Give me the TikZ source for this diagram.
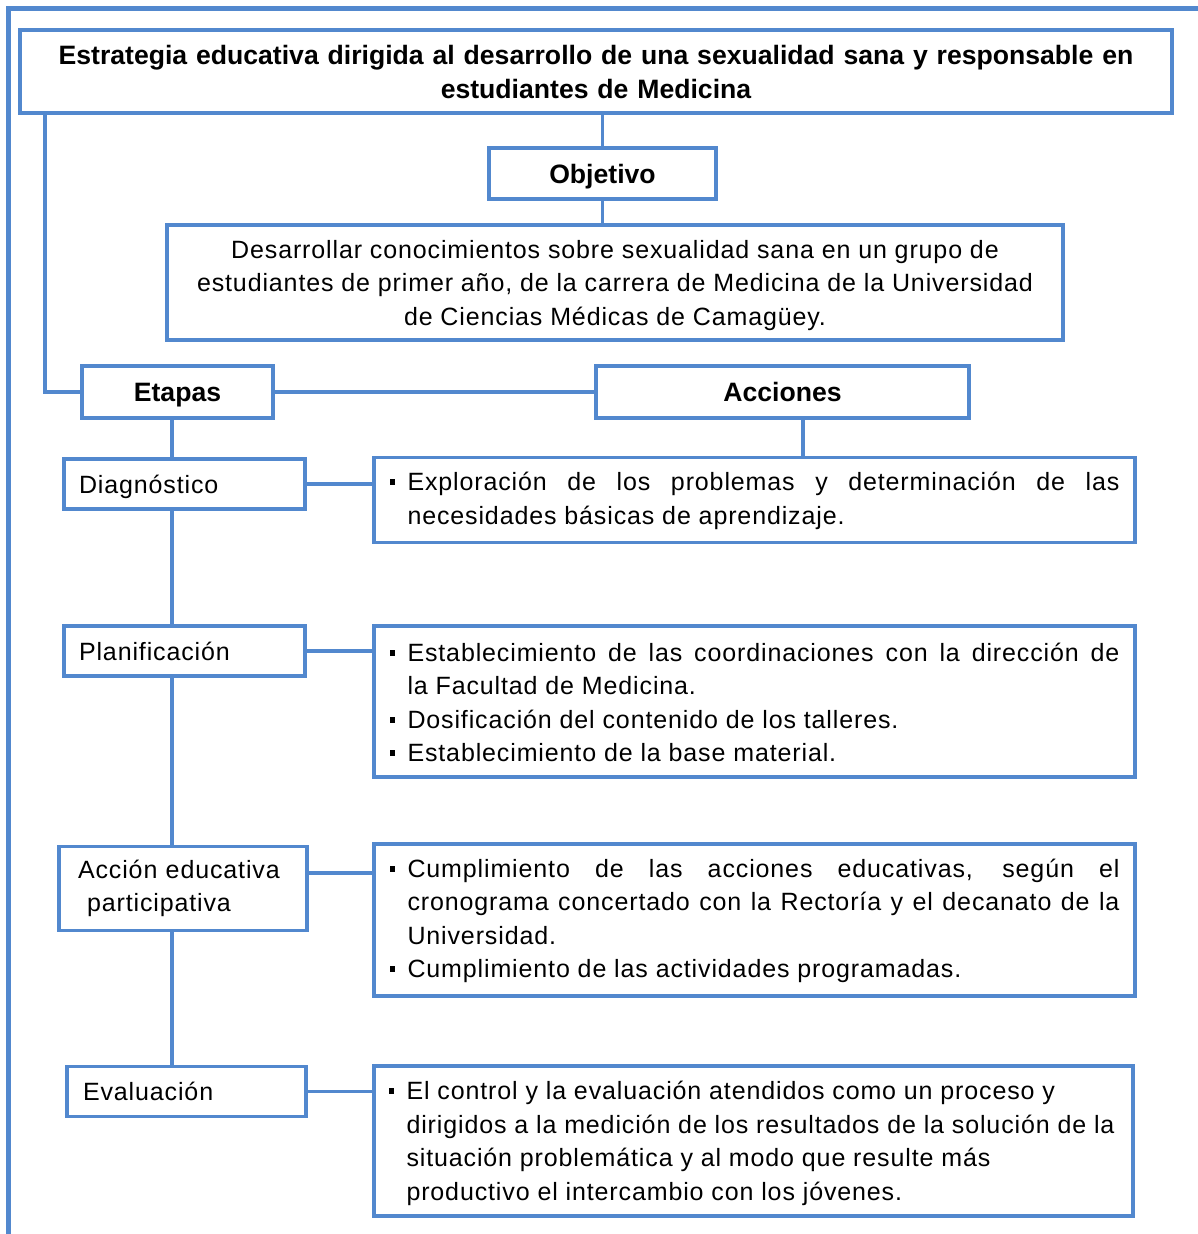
\documentclass[tikz,border=0pt]{standalone}
\usepackage{fontspec}
\setmainfont{Liberation Sans}[LetterSpace=3.5,BoldFeatures={LetterSpace=0}]
\definecolor{frameblue}{RGB}{82,136,206}
\tolerance=9999
\hyphenpenalty=10000
\newcommand\bul{\par\noindent\hangindent=18pt\hangafter=1\makebox[18pt][l]{\raisebox{5.5pt}{\rule{5.5pt}{6pt}}}}
\newcommand\txtfont{\fontsize{25pt}{33.5pt}\selectfont}
\newcommand\boldfont{\fontsize{26.6pt}{34pt}\selectfont\bfseries}
\newcommand\finish{\par\kern13pt\hrule height 0pt width 0pt}
\tikzset{
  box/.style={draw=frameblue, line width=3.5pt, rectangle, inner sep=0pt, fill=white},
  link/.style={draw=frameblue, line width=3.5pt},
  frame/.style={draw=frameblue, line width=5pt},
  txt/.style={font=\txtfont},
  bold/.style={font=\boldfont},
  acts/.style={box, txt, text width=730pt, align=justify},
  stage/.style={box, txt, align=left}
}
\begin{document}
\begin{tikzpicture}[x=1pt,y=-1pt]
\useasboundingbox[fill=white] (0,0) rectangle (1198,1234);
\draw[frame] (8,1234) -- (8,8) -- (1198,8);
% top boxes
\node[box, bold, minimum width=1152pt, minimum height=83pt, text width=1130pt, align=center] (title) at (596,71.5)
  {Estrategia educativa dirigida al desarrollo de una sexualidad sana y responsable en\\estudiantes de Medicina};
\node[box, bold, minimum width=227pt, minimum height=51pt, text depth=0pt] (obj) at (602.5,173.5) {Objetivo};
\node[box, txt, minimum width=896pt, minimum height=115pt] (goal) at (615,282.5)
  {\parbox{880pt}{\centering\vspace*{6pt}Desarrollar conocimientos sobre sexualidad sana en un grupo de\\estudiantes de primer año, de la carrera de Medicina de la Universidad\\de Ciencias Médicas de Camagüey.}};
\node[box, bold, minimum width=191pt, minimum height=52pt, text depth=0pt] (etapas) at (177.5,392) {Etapas};
\node[box, bold, minimum width=373pt, minimum height=52pt] (acciones) at (782.5,392) {Acciones};
% stages
\node[stage, minimum width=241pt, minimum height=50pt, text width=211pt, text depth=0pt] (diag) at (184.5,484) {Diagnóstico};
\node[stage, minimum width=241pt, minimum height=50pt, text width=211pt] (plan) at (184.5,651) {Planificación};
\node[stage, minimum width=248pt, minimum height=84pt, text width=210pt] (accion) at (183,888.5) {Acción educativa\\\hspace*{9pt}participativa};
\node[stage, minimum width=239pt, minimum height=50pt, text width=207pt] (eval) at (186.5,1091.5) {Evaluación};
% actions
\node[acts, minimum width=761pt, minimum height=82pt] (a1) at (754.5,500)
  {\bul Exploración de los problemas y determinación de las\linebreak necesidades básicas de aprendizaje.\finish};
\node[acts, minimum width=761pt, minimum height=151pt] (a2) at (754.5,701.5)
  {\bul Establecimiento de las coordinaciones con la dirección de\linebreak la Facultad de Medicina.
   \bul Dosificación del contenido de los talleres.
   \bul Establecimiento de la base material.\finish};
\node[acts, minimum width=761pt, minimum height=150pt] (a3) at (754.5,920)
  {\bul Cumplimiento de las acciones educativas, según el\linebreak cronograma concertado con la Rectoría y el decanato de la\linebreak Universidad.
   \bul Cumplimiento de las actividades programadas.\finish};
\node[box, txt, minimum width=759pt, minimum height=150pt] (a4) at (753.5,1141)
  {\makebox[730pt][l]{\parbox[c]{745pt}{\raggedright\bul El control y la evaluación atendidos como un proceso y\newline dirigidos a la medición de los resultados de la solución de la\newline situación problemática y al modo que resulte más\newline productivo el intercambio con los jóvenes.\par\kern-5pt\hrule height 0pt width 0pt}}};
% connectors
\coordinate (lc) at (45,392);
\coordinate (sx) at (172,0);
\coordinate (ax) at (803,0);
\coordinate (c3) at (307,873);
\draw[link] (obj.north) -- (obj.north |- title.south);
\draw[link] (obj.south) -- (obj.south |- goal.north);
\draw[link] (lc |- title.south) -- (lc) -- (etapas.west);
\draw[link] (etapas.east) -- (acciones.west);
\draw[link] (ax |- acciones.south) -- (ax |- a1.north);
\draw[link] (sx |- etapas.south) -- (sx |- diag.north);
\draw[link] (sx |- diag.south) -- (sx |- plan.north);
\draw[link] (sx |- plan.south) -- (sx |- accion.north);
\draw[link] (sx |- accion.south) -- (sx |- eval.north);
\draw[link] (diag.east) -- (diag.east -| a1.west);
\draw[link] (plan.east) -- (plan.east -| a2.west);
\draw[link] (c3) -- (c3 -| a3.west);
\draw[link] (eval.east) -- (eval.east -| a4.west);
\end{tikzpicture}
\end{document}
